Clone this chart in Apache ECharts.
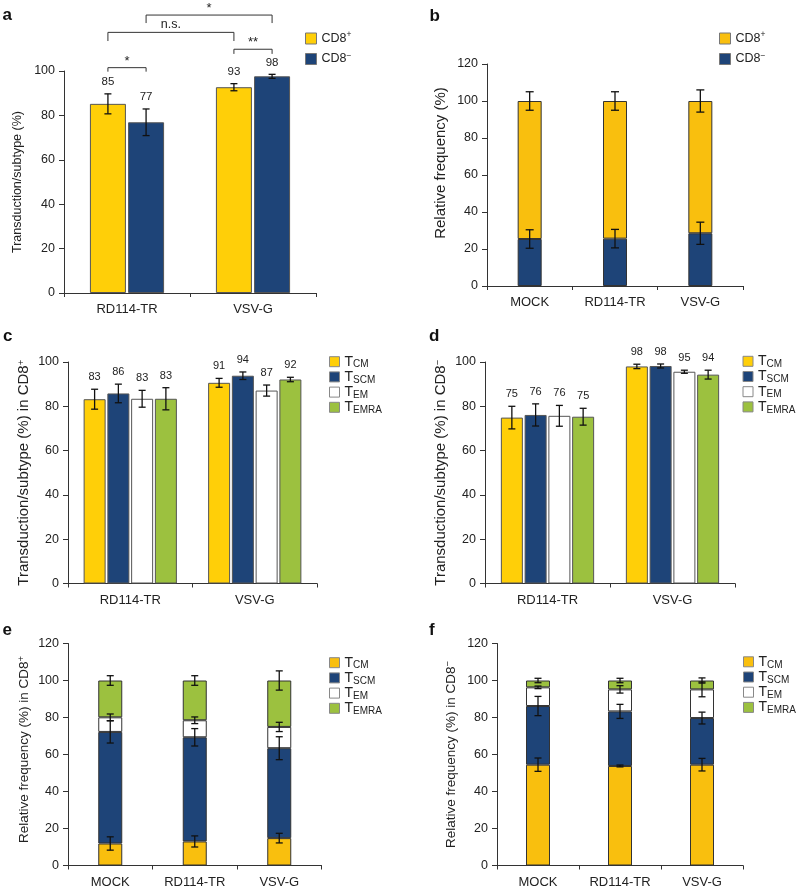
<!DOCTYPE html>
<html><head><meta charset="utf-8">
<script src="https://cdn.jsdelivr.net/npm/echarts@6/dist/echarts.min.js"></script>
<style>html,body{margin:0;padding:0;background:#fff}#c{width:800px;height:890px}</style>
</head><body><div id="c"></div>
<script>
const FONT = "'Liberation Sans', Arial, Helvetica, sans-serif";

// ---------- Panel a ----------
const catsA = ['RD114-TR', 'VSV-G'];
const aPos = [85.2, 92.7];
const aPosErr = [4.5, 1.6];
const aPosLbl = ['85', '93'];
const aNeg = [76.9, 97.6];
const aNegErr = [6.0, 0.9];
const aNegLbl = ['77', '98'];
// [catFrom, barFrom, catTo, barTo, yLine, drop]
const aSig = [
  [0, 0, 0, 1, 101.5, 1.8],
  [0, 0, 1, 0, 117.4, 3.9],
  [1, 0, 1, 1, 109.8, 2.1],
  [0, 1, 1, 1, 125.2, 3.6]
];
const aSigLbl = ['*', 'n.s.', '**', '*'];

// ---------- Panel b ----------
const catsB = ['MOCK', 'RD114-TR', 'VSV-G'];
const bNeg = [25.4, 25.6, 28.5];
const bNegErr = [5, 5, 6];
const bPos = [74.6, 74.4, 71.5];
const bPosErr = [5, 5, 6];

// ---------- Panel c ----------
const catsC = ['RD114-TR', 'VSV-G'];
const cCM = [83.2, 90.6];   const cCMErr = [4.5, 2.0];   const cCMLbl = ['83', '91'];
const cSCM = [85.8, 93.8];  const cSCMErr = [4.2, 1.7];  const cSCMLbl = ['86', '94'];
const cEM = [83.4, 87.1];   const cEMErr = [3.8, 2.5];   const cEMLbl = ['83', '87'];
const cEMRA = [83.4, 92.1]; const cEMRAErr = [5.0, 1.0]; const cEMRALbl = ['83', '92'];

// ---------- Panel d ----------
const dCM = [74.9, 98.0];   const dCMErr = [5.1, 1.0];   const dCMLbl = ['75', '98'];
const dSCM = [76.1, 98.2];  const dSCMErr = [5.0, 0.9];  const dSCMLbl = ['76', '98'];
const dEM = [75.7, 95.6];   const dEMErr = [4.7, 0.7];   const dEMLbl = ['76', '95'];
const dEMRA = [75.3, 94.3]; const dEMRAErr = [3.8, 2.0]; const dEMRALbl = ['75', '94'];

// ---------- Panel e (stacked, CD8+) ----------
const eCM = [11.9, 13.0, 14.8];   const eCMErr = [3.6, 3.0, 2.6];
const eSCM = [60.3, 56.3, 48.6];  const eSCMErr = [6.0, 4.7, 6.2];
const eEM = [7.9, 9.2, 11.5];     const eEMErr = [1.8, 1.8, 2.5];
const eEMRA = [19.9, 21.5, 25.1]; const eEMRAErr = [2.6, 2.6, 5.2];

// ---------- Panel f (stacked, CD8-) ----------
const fCM = [54.5, 53.8, 54.5];   const fCMErr = [3.6, 0.5, 3.4];
const fSCM = [31.7, 29.5, 25.2];  const fSCMErr = [5.2, 3.8, 3.2];
const fEM = [10.1, 11.9, 15.5];   const fEMErr = [0.7, 2.0, 4.0];
const fEMRA = [3.7, 4.8, 4.8];    const fEMRAErr = [1.2, 1.2, 1.4];

const yTicks100 = {min: 0, max: 100, interval: 20};
const yTicks120 = {min: 0, max: 120, interval: 20};

// colours
const YEL1 = '#FFCF08', YEL2 = '#F9BF0E', BLUE = '#1E4478', WHITE = '#FFFFFF', GREEN = '#9CC13F';

const chart = echarts.init(document.getElementById('c'), null, {renderer: 'canvas'});

const grids = [
  {left: 64, top: 71, width: 252, height: 222},
  {left: 487, top: 64, width: 256, height: 222},
  {left: 68, top: 362, width: 249, height: 221.5},
  {left: 485, top: 362, width: 250, height: 221.5},
  {left: 68, top: 643.5, width: 253.5, height: 222},
  {left: 497, top: 643.5, width: 246, height: 222}
];

const cats = [catsA, catsB, catsC, catsC, catsB, catsB];
const xAxes = cats.map((c, i) => ({
  type: 'category', gridIndex: i, data: c,
  axisLine: {lineStyle: {color: '#333', width: 1}},
  axisTick: {show: true, length: 4, lineStyle: {color: '#333'}},
  axisLabel: {fontSize: 13, color: '#222', margin: 10, fontFamily: FONT}
}));

const supRich = {sup: {fontSize: 9.5, lineHeight: 6, verticalAlign: 'top', fontFamily: FONT, color: '#222'}};
const yNames = [
  'Transduction/subtype (%)',
  'Relative frequency (%)',
  'Transduction/subtype (%) in CD8{sup|+}',
  'Transduction/subtype (%) in CD8{sup|−}',
  'Relative frequency (%) in CD8{sup|+}',
  'Relative frequency (%) in CD8{sup|−}'
];
const yNameSize = [12.5, 15, 15, 15, 13.5, 13.5];
const yNameGap = [38, 38, 36, 36, 36, 38];
const yNamePad = [[0, 0, 0, 0], [0, 0, 0, 24], [0, 0, 0, 0], [0, 0, 0, 0], [0, 0, 0, 10], [0, 0, 0, 0]];
const yRange = [yTicks100, yTicks120, yTicks100, yTicks100, yTicks120, yTicks120];
const yAxes = yRange.map((r, i) => ({
  type: 'value', gridIndex: i, min: r.min, max: r.max, interval: r.interval,
  axisLine: {show: true, lineStyle: {color: '#333', width: 1}},
  axisTick: {show: true, length: 5, lineStyle: {color: '#333'}},
  splitLine: {show: false},
  axisLabel: {fontSize: 12.5, color: '#222', margin: 9, fontFamily: FONT},
  name: yNames[i], nameLocation: 'middle', nameRotate: 90, nameGap: yNameGap[i],
  nameTextStyle: {fontSize: yNameSize[i], color: '#222', fontFamily: FONT, lineHeight: 16,
    padding: yNamePad[i], rich: supRich}
}));

function barS(name, gi, data, color, bw, gap, stack, border) {
  const s = {
    name, type: 'bar', xAxisIndex: gi, yAxisIndex: gi, data, barWidth: bw,
    itemStyle: {color, borderColor: border || '#555', borderWidth: 1},
    emphasis: {disabled: true}, z: 2
  };
  if (gap != null) s.barGap = gap;
  if (stack) s.stack = stack;
  return s;
}

function errS(gi, tops, errs, o) {
  return {
    type: 'custom', xAxisIndex: gi, yAxisIndex: gi, z: 10, silent: true, clip: false,
    data: tops.map((v, i) => [i, v, errs[i]]),
    renderItem(params, api) {
      const i = api.value(0), v = api.value(1), e = api.value(2);
      const off = (o.idx - (o.n - 1) / 2) * o.bw * (1 + o.gap);
      const t = api.coord([i, v + e]), b = api.coord([i, v - e]);
      const x = t[0] + off;
      const cw = o.cap / 2;
      const st = {stroke: '#111', lineWidth: 1.3};
      const ch = [
        {type: 'line', shape: {x1: x, y1: t[1], x2: x, y2: b[1]}, style: st},
        {type: 'line', shape: {x1: x - cw, y1: t[1], x2: x + cw, y2: t[1]}, style: st},
        {type: 'line', shape: {x1: x - cw, y1: b[1], x2: x + cw, y2: b[1]}, style: st}
      ];
      if (o.labels) {
        ch.push({type: 'text', style: {
          text: o.labels[params.dataIndex], x: x, y: t[1] - o.lblGap,
          align: 'center', verticalAlign: 'middle',
          font: o.lblSize + 'px ' + FONT, fill: '#222'}});
      }
      return {type: 'group', children: ch};
    }
  };
}

const series = [];
// a
const A_BW = 36, A_GAP = 0.06;
series.push(barS('aPos', 0, aPos, YEL1, A_BW, '6%'));
series.push(barS('aNeg', 0, aNeg, BLUE, A_BW, '6%'));
series.push(errS(0, aPos, aPosErr, {idx: 0, n: 2, bw: A_BW, gap: A_GAP, cap: 7, labels: aPosLbl, lblGap: 12, lblSize: 11.5}));
series.push(errS(0, aNeg, aNegErr, {idx: 1, n: 2, bw: A_BW, gap: A_GAP, cap: 7, labels: aNegLbl, lblGap: 12, lblSize: 11.5}));
series.push({
  type: 'custom', xAxisIndex: 0, yAxisIndex: 0, z: 10, silent: true, clip: false,
  data: aSig,
  renderItem(params, api) {
    const step = A_BW * (1 + A_GAP);
    const off = b => (b - 0.5) * step;
    const p1 = api.coord([api.value(0), api.value(4)]);
    const p2 = api.coord([api.value(2), api.value(4)]);
    const pd = api.coord([api.value(0), api.value(4) - api.value(5)]);
    const x1 = p1[0] + off(api.value(1)), x2 = p2[0] + off(api.value(3));
    const y = p1[1], yd = pd[1];
    const lbl = aSigLbl[params.dataIndex];
    const isStar = lbl.indexOf('*') >= 0;
    return {type: 'group', children: [
      {type: 'polyline', shape: {points: [[x1, yd], [x1, y], [x2, y], [x2, yd]]},
       style: {stroke: '#333', fill: null, lineWidth: 1}},
      {type: 'text', style: {text: lbl, x: (x1 + x2) / 2, y: y - (isStar ? 0 : 1),
        align: 'center', verticalAlign: 'bottom', font: (isStar ? 13 : 12.5) + 'px ' + FONT, fill: '#222'}}
    ]};
  }
});

// b (stacked)
const B_BW = 24;
series.push(barS('bNeg', 1, bNeg, BLUE, B_BW, null, 'b', '#333'));
series.push(barS('bPos', 1, bPos, YEL2, B_BW, null, 'b', '#333'));
series.push(errS(1, bNeg, bNegErr, {idx: 0, n: 1, bw: B_BW, gap: 0, cap: 8}));
series.push(errS(1, bNeg.map((v, i) => v + bPos[i]), bPosErr, {idx: 0, n: 1, bw: B_BW, gap: 0, cap: 8}));

// c, d (grouped 4)
const C_BW = 22, C_GAP = 0.08;
function grouped4(gi, prefix, vals, errs, lbls, yel) {
  const cols = [yel, BLUE, WHITE, GREEN];
  const nm = ['CM', 'SCM', 'EM', 'EMRA'];
  vals.forEach((v, k) => {
    series.push(barS(prefix + nm[k], gi, v, cols[k], C_BW, '8%'));
  });
  vals.forEach((v, k) => {
    series.push(errS(gi, v, errs[k], {idx: k, n: 4, bw: C_BW, gap: C_GAP, cap: 7, labels: lbls[k], lblGap: 12, lblSize: 11}));
  });
}
grouped4(2, 'c', [cCM, cSCM, cEM, cEMRA], [cCMErr, cSCMErr, cEMErr, cEMRAErr], [cCMLbl, cSCMLbl, cEMLbl, cEMRALbl], YEL1);
grouped4(3, 'd', [dCM, dSCM, dEM, dEMRA], [dCMErr, dSCMErr, dEMErr, dEMRAErr], [dCMLbl, dSCMLbl, dEMLbl, dEMRALbl], YEL1);

// e, f (stacked 4)
function stacked4(gi, prefix, vals, errs) {
  const cols = [YEL2, BLUE, WHITE, GREEN];
  const nm = ['CM', 'SCM', 'EM', 'EMRA'];
  const cum = vals[0].map(() => 0);
  vals.forEach((v, k) => {
    series.push(barS(prefix + nm[k], gi, v, cols[k], 24, null, prefix, '#333'));
  });
  vals.forEach((v, k) => {
    v.forEach((x, i) => { cum[i] += x; });
    series.push(errS(gi, cum.slice(), errs[k], {idx: 0, n: 1, bw: 24, gap: 0, cap: 7}));
  });
}
stacked4(4, 'e', [eCM, eSCM, eEM, eEMRA], [eCMErr, eSCMErr, eEMErr, eEMRAErr]);
stacked4(5, 'f', [fCM, fSCM, fEM, fEMRA], [fCMErr, fSCMErr, fEMErr, fEMRAErr]);

// legends
const cdRich = {
  b: {fontSize: 12.5, lineHeight: 16, fontFamily: FONT, color: '#222'},
  sup: {fontSize: 8.5, lineHeight: 6, verticalAlign: 'top', fontFamily: FONT, color: '#222'}
};
const tRich = {
  t: {fontSize: 14, lineHeight: 16, fontFamily: FONT, color: '#222'},
  s: {fontSize: 10, lineHeight: 5, verticalAlign: 'bottom', fontFamily: FONT, color: '#222'}
};
const cdLabels = {Pos: '{b|CD8}{sup|+}', Neg: '{b|CD8}{sup|−}'};
const tLabels = {CM: '{t|T}{s|CM}', SCM: '{t|T}{s|SCM}', EM: '{t|T}{s|EM}', EMRA: '{t|T}{s|EMRA}'};

function cdLegend(prefix, left, top) {
  return {
    orient: 'vertical', left, top, padding: 0, itemWidth: 11, itemHeight: 11, itemGap: 6,
    icon: 'rect', selectedMode: false, data: [prefix + 'Pos', prefix + 'Neg'],
    formatter: n => cdLabels[n.slice(1)],
    itemStyle: {borderColor: '#777', borderWidth: 1},
    textStyle: {rich: cdRich, fontFamily: FONT}
  };
}
function tLegend(prefix, left, top) {
  return {
    orient: 'vertical', left, top, padding: 0, itemWidth: 10, itemHeight: 10, itemGap: 0.2,
    icon: 'rect', selectedMode: false,
    data: ['CM', 'SCM', 'EM', 'EMRA'].map(s => prefix + s),
    formatter: n => tLabels[n.slice(1)],
    itemStyle: {borderColor: '#888', borderWidth: 1},
    textStyle: {rich: tRich, fontFamily: FONT}
  };
}

const legends = [
  cdLegend('a', 305, 30.5),
  cdLegend('b', 719, 30.5),
  tLegend('c', 329, 354.7),
  tLegend('d', 742.5, 354.3),
  tLegend('e', 329, 655.7),
  tLegend('f', 743, 654.8)
];

const panelLbl = [['a', 2.5, 15.5], ['b', 429.5, 16.5], ['c', 3, 336.5], ['d', 429, 336.5], ['e', 2.5, 630], ['f', 429, 630]];

chart.setOption({
  backgroundColor: '#fff',
  animation: false,
  textStyle: {fontFamily: FONT},
  grid: grids,
  xAxis: xAxes,
  yAxis: yAxes,
  legend: legends,
  series,
  graphic: panelLbl.map(p => ({
    type: 'text', x: p[1], y: p[2],
    style: {text: p[0], font: 'bold 17px ' + FONT, fill: '#111', align: 'left', verticalAlign: 'middle'}
  }))
});
</script></body></html>
